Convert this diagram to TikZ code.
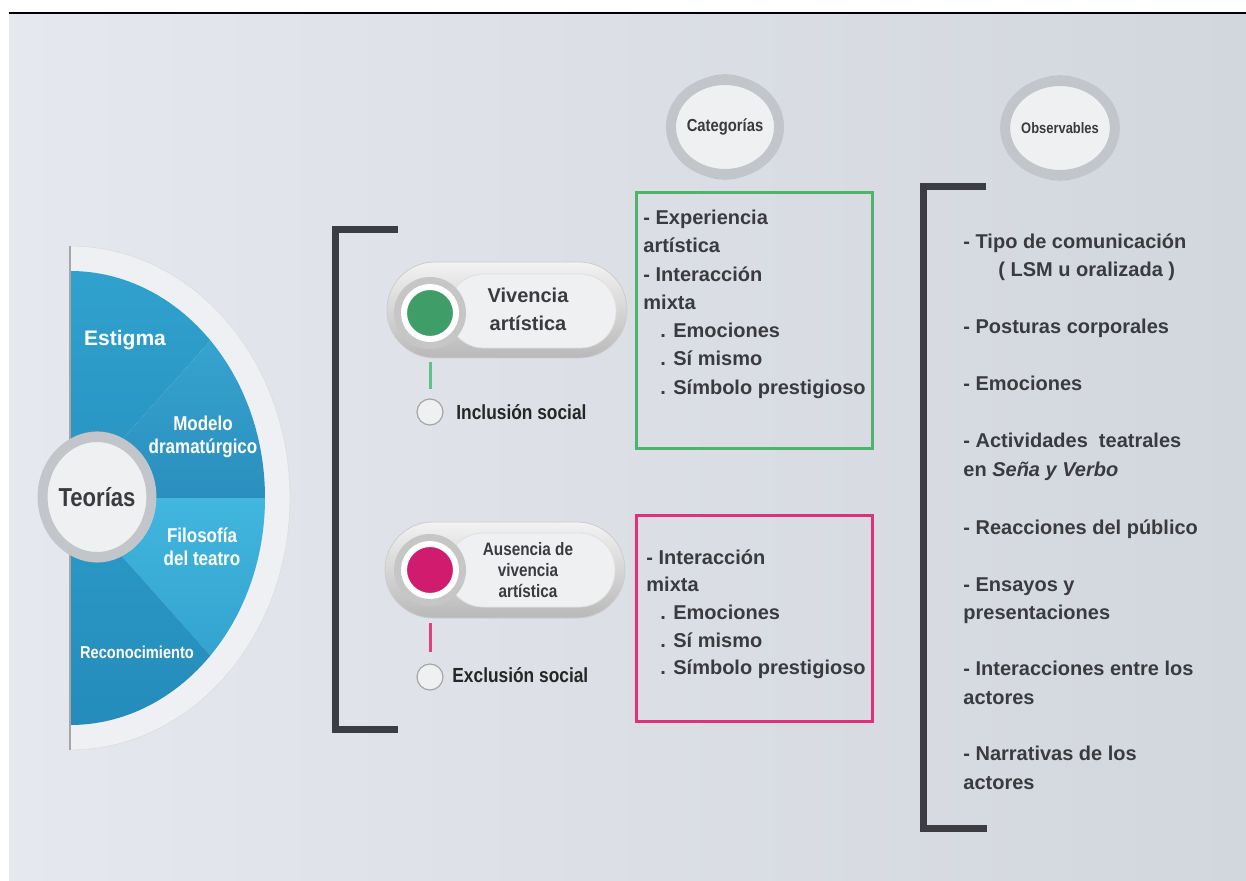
\documentclass[tikz,border=0pt]{standalone}
\usepackage{fontspec}
\setmainfont{Liberation Sans}
\newfontfamily\condfont[FakeStretch=0.85]{Liberation Sans}
\usepackage{tikz}
\usetikzlibrary{shapes.geometric}

\definecolor{bgtop}{HTML}{E5E8EE}
\definecolor{bgbot}{HTML}{D2D7DD}
\definecolor{ink}{HTML}{3A3B3F}
\definecolor{bracketc}{HTML}{3B3D42}
\definecolor{rimc}{HTML}{EEF0F3}
\definecolor{ringc}{HTML}{C2C6CA}
\definecolor{facec}{HTML}{EFF0F2}
\definecolor{catgreen}{HTML}{4FB36E}
\definecolor{catpink}{HTML}{E0307C}
\definecolor{dotgreen}{HTML}{3F9D68}
\definecolor{dotpink}{HTML}{D01B6F}
\definecolor{stemgreen}{HTML}{62C08A}
\definecolor{stempink}{HTML}{E0407F}

\tikzset{
  bracket/.style={draw=bracketc, line width=3.5pt},
  badge/.style={ellipse, draw=ringc, line width=5pt, fill=facec, inner sep=0pt, text=ink},
  badgeedge/.style={ellipse, draw=gray!55, line width=0.6pt, inner sep=0pt},
  sectortext/.style={text=white, align=center, inner sep=0pt, font=\condfont\bfseries\fontsize{10}{11.5}\selectfont},
  pillout/.style={rectangle, rounded corners=23.9pt, top color=white!90!gray, bottom color=gray!55, draw=gray!40, minimum width=120pt, minimum height=48pt},
  pillin/.style={rectangle, rounded corners=18pt, fill=facec, draw=gray!25, minimum width=84pt, minimum height=37pt},
  socket/.style={circle, fill=gray!45, minimum size=36pt},
  dot/.style={circle, draw=white, line width=3pt, minimum size=26pt},
  knob/.style={circle, fill=facec, draw=gray!70, line width=0.6pt, minimum size=13pt},
  stem/.style={line width=1.5pt},
  labtext/.style={anchor=west, inner sep=0pt, text=black!85, font=\condfont\bfseries\fontsize{10.2}{12}\selectfont},
  catbox/.style={rectangle, line width=1.5pt, inner sep=0pt},
  listtext/.style={anchor=base west, inner sep=0pt, text=ink, font=\bfseries\fontsize{10}{12}\selectfont}
}

\begin{document}
\begin{tikzpicture}[x=0.5pt, y=-0.5pt]
\useasboundingbox (0,0) rectangle (1246,881);

% background
\shade[left color=bgtop, right color=bgbot] (9,14) rectangle (1246,881);
\draw[black, line width=0.8pt] (9,13) -- (1246,13);

% half disc of the theories
\fill[rimc] (70,246) arc[start angle=-90, end angle=90, x radius=220, y radius=252] -- cycle;
\draw[gray!25] (70,246) arc[start angle=-90, end angle=90, x radius=220, y radius=252];
\begin{scope}
  \clip (70,271) arc[start angle=-90, end angle=90, x radius=195, y radius=227] -- cycle;
  \shade[top color={rgb,255:red,51;green,165;blue,208}, bottom color={rgb,255:red,39;green,147;blue,194}]
    (70,498) -- (70,200) -- (300,200) -- (300,240) -- cycle;
  \shade[top color={rgb,255:red,63;green,176;blue,218}, bottom color={rgb,255:red,42;green,143;blue,190}]
    (70,498) -- (300,240) -- (300,498) -- cycle;
  \shade[top color={rgb,255:red,65;green,182;blue,223}, bottom color={rgb,255:red,43;green,152;blue,197}]
    (70,498) -- (300,498) -- (300,756) -- cycle;
  \shade[top color={rgb,255:red,44;green,154;blue,199}, bottom color={rgb,255:red,34;green,135;blue,182}]
    (70,498) -- (300,756) -- (300,800) -- (70,800) -- cycle;
\end{scope}
\draw[gray!70, line width=0.6pt] (70,246) -- (70,750);

% sector labels
\node[sectortext, font=\bfseries\fontsize{10.5}{12}\selectfont] (estigma) at (125,340) {Estigma};
\node[sectortext] (modelo) at (203,437) {Modelo\\dramatúrgico};
\node[sectortext] (filosofia) at (202,547) {Filosofía\\del teatro};
\node[sectortext, font=\condfont\bfseries\fontsize{8.6}{10}\selectfont] (reconoc) at (137,652) {Reconocimiento};
\node[badgeedge, minimum width=57pt, minimum height=65pt] (teoedge) at (97,497) {};
\node[badge, minimum width=52pt, minimum height=60pt, font=\condfont\bfseries\fontsize{13}{15}\selectfont] (teorias) at (97,497) {Teorías};

% headings
\node[badgeedge, minimum width=52pt, minimum height=52pt] (categedge) at (725,127) {};
\node[badge, minimum width=47pt, minimum height=47pt, font=\condfont\bfseries\fontsize{8.7}{10}\selectfont] (categ) at (725,127) {Categorías};
\node[badgeedge, minimum width=52pt, minimum height=52pt] (observedge) at (1060,128) {};
\node[badge, minimum width=47pt, minimum height=47pt, font=\condfont\bfseries\fontsize{7.6}{9}\selectfont] (observ) at (1060,128) {Observables};

% brackets
\draw[bracket] (398,230) -- (335,230) -- (335,729) -- (398,729);
\draw[bracket] (986,187) -- (923,187) -- (923,828) -- (987,828);

% vivencia artistica
\node[pillout] (vivpill) at (507,310) {};
\node[pillin] (vivin) at (532,311) {};
\node[socket] (vivsock) at (430,313) {};
\node[dot, fill=dotgreen] (vivdot) at (430,313) {};
\node[align=center, inner sep=0pt, text=ink, font=\bfseries\fontsize{10}{14}\selectfont] (vivtext) at (528,309) {Vivencia\\artística};
\node[knob] (inclc) at (430,412) {};
\node[labtext] (incltext) at (456,412) {Inclusión social};
\draw[stem, draw=stemgreen, shorten <=10pt, shorten >=4.5pt] (vivdot) -- (inclc);

% ausencia de vivencia artistica
\node[pillout] (auspill) at (505,570) {};
\node[pillin] (ausin) at (531,570) {};
\node[socket] (aussock) at (430,570) {};
\node[dot, fill=dotpink] (ausdot) at (430,570) {};
\node[align=center, inner sep=0pt, text=ink, font=\condfont\bfseries\fontsize{9}{10.5}\selectfont] (austext) at (528,570) {Ausencia de\\vivencia\\artística};
\node[knob] (exclc) at (430,677) {};
\node[labtext] (excltext) at (452,675) {Exclusión social};
\draw[stem, draw=stempink, shorten <=12pt, shorten >=5.5pt] (ausdot) -- (exclc);

% category boxes
\node[catbox, draw=catgreen, minimum width=118pt, minimum height=128pt] (vivbox) at (754,321) {};
\node[catbox, draw=catpink, minimum width=118pt, minimum height=103pt] (ausbox) at (754,618) {};

\foreach \x/\y/\t [count=\i] in {643/225/{- Experiencia}, 643/253/{artística}, 643/282/{- Interacción}, 643/310/{mixta},
  660/338/{. Emociones}, 660/366/{. Sí mismo}, 660/395/{. Símbolo prestigioso}}
  \node[listtext] (viv\i) at (\x,\y) {\t};

\foreach \x/\y/\t [count=\i] in {646/564/{- Interacción}, 646/591/{mixta},
  660/619/{. Emociones}, 660/647/{. Sí mismo}, 660/674/{. Símbolo prestigioso}}
  \node[listtext] (aus\i) at (\x,\y) {\t};

% observables
\foreach \x/\y/\t [count=\i] in {963/249/{- Tipo de comunicación}, 998/277/{( LSM u oralizada )},
  963/334/{- Posturas corporales}, 963/391/{- Emociones},
  963/448/{- Actividades\ \ teatrales}, 963/477/{en \textit{Seña y Verbo}},
  963/534/{- Reacciones del público}, 963/591/{- Ensayos y}, 963/619/{presentaciones},
  963/675/{- Interacciones entre los}, 963/704/{actores},
  963/760/{- Narrativas de los}, 963/789/{actores}}
  \node[listtext] (obs\i) at (\x,\y) {\t};

\end{tikzpicture}
\end{document}
